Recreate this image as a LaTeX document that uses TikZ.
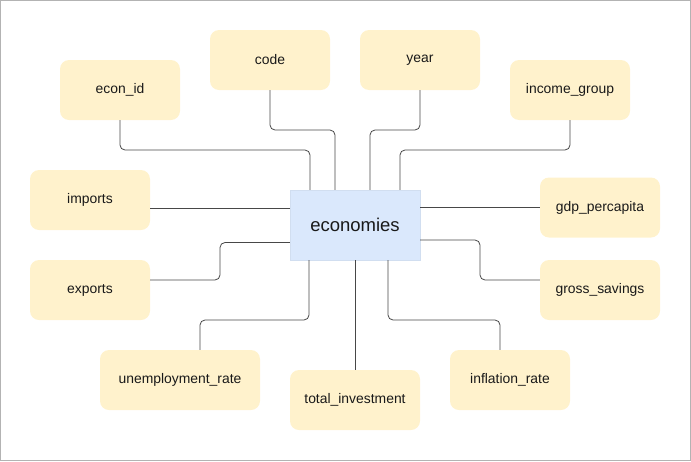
\documentclass[tikz,border=0pt]{standalone}
\usepackage{fontspec}
\setmainfont{Liberation Sans}
\definecolor{attr}{HTML}{FFF2CC}
\definecolor{ent}{HTML}{DAE8FC}
\definecolor{lnk}{HTML}{474747}
\definecolor{frame}{HTML}{B3B3B3}
\begin{document}
\begin{tikzpicture}[x=1pt,y=-1pt,
  attrbox/.style={fill=attr, draw=none, rounded corners=9pt, minimum width=120pt, minimum height=60pt, inner sep=0pt, font=\fontsize{13.9}{16}\selectfont, text=black!90},
  entbox/.style={fill=ent, draw=ent!90!gray, minimum width=130pt, minimum height=70pt, inner sep=0pt, font=\fontsize{18.5}{22}\selectfont, text=black!90},
  conn/.style={draw=lnk, line width=0.8pt, rounded corners=5pt}]
\useasboundingbox (0,0) rectangle (691,461);
\draw[frame, line width=1pt] (0.5,0.5) rectangle (690.5,460.5);

\node[entbox] (econ) at (355,225) {economies};
\node[attrbox] (econid) at (120,90) {econ\_id};
\node[attrbox] (code) at (270,60) {code};
\node[attrbox] (year) at (420,60) {year};
\node[attrbox] (income) at (570,90) {income\_group};
\node[attrbox] (imports) at (90,200) {imports};
\node[attrbox] (gdp) at (600,207.5) {gdp\_percapita};
\node[attrbox] (exports) at (90,290) {exports};
\node[attrbox] (gross) at (600,290) {gross\_savings};
\node[attrbox, minimum width=160pt] (unemp) at (180,380) {unemployment\_rate};
\node[attrbox, minimum width=130pt] (total) at (355,400) {total\_investment};
\node[attrbox] (infl) at (510,380) {inflation\_rate};

\draw[conn] (econid.south) |- (310,150) -- ([xshift=-45pt]econ.north);
\draw[conn] (code.south) |- (335,130) -- ([xshift=-20pt]econ.north);
\draw[conn] (year.south) |- (370,130) -- ([xshift=15pt]econ.north);
\draw[conn] (income.south) |- (400,150) -- ([xshift=45pt]econ.north);
\draw[conn] ([yshift=-8pt]imports.east) -- ([yshift=17pt]econ.west);
\draw[conn] (econ.east |- gdp.west) -- (gdp.west);
\draw[conn] ([yshift=-17.5pt]econ.west) -| (220,280) -- ([yshift=10pt]exports.east);
\draw[conn] ([yshift=-15pt]econ.east) -| (480,280) -- ([yshift=10pt]gross.west);
\draw[conn] ([xshift=-46pt]econ.south) |- (200,320) -- ([xshift=20pt]unemp.north);
\draw[conn] (econ.south) -- (total.north);
\draw[conn] ([xshift=33pt]econ.south) |- (500,320) -- ([xshift=-10pt]infl.north);
\end{tikzpicture}
\end{document}
